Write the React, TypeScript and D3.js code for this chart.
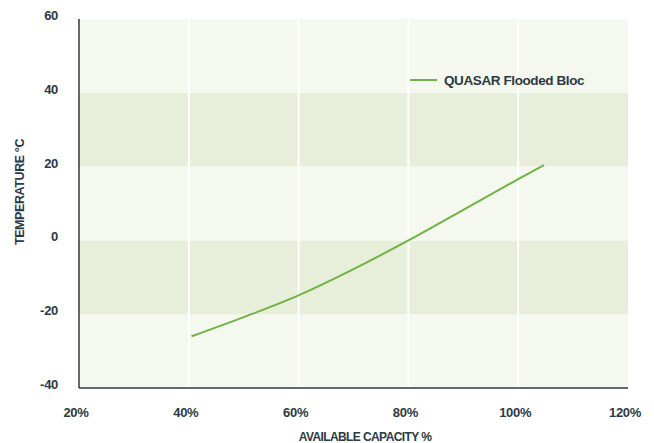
import React, { useEffect, useRef } from 'react';
import * as d3 from 'd3';

// Data
const capacity = [40.5, 50, 60, 70, 80, 90, 100, 104.7];
const temperature = [-26, -20.8, -14.9, -7.8, 0, 8.3, 16.6, 20.4];
const xTicks = [20, 40, 60, 80, 100, 120];
const yTicks = [-40, -20, 0, 20, 40, 60];
const seriesName = 'QUASAR Flooded Bloc';

const FONT = "'Liberation Sans', Arial, sans-serif";
const TEXT = '#2b3a44';
const LIGHT = '#f5f8ee';
const DARK = '#e7efdb';
const GREEN = '#70b244';

const App = () => {
  const svgRef = useRef<SVGSVGElement>(null);

  useEffect(() => {
    const width = 654;
    const height = 443;
    const margin = { top: 19, right: 26, bottom: 55, left: 79 };

    const svg = d3.select(svgRef.current);
    svg.selectAll('*').remove();
    svg.attr('width', width).attr('height', height);

    const x = d3
      .scaleLinear()
      .domain([20, 120])
      .range([margin.left, width - margin.right]);

    const y = d3
      .scaleLinear()
      .domain([-40, 60])
      .range([height - margin.bottom, margin.top]);

    // Horizontal bands
    const bands = d3.pairs(yTicks);
    svg
      .append('g')
      .selectAll('rect')
      .data(bands)
      .enter()
      .append('rect')
      .attr('x', x(20))
      .attr('width', x(120) - x(20))
      .attr('y', (d) => y(d[1]))
      .attr('height', (d) => y(d[0]) - y(d[1]))
      .attr('fill', (d) => (((d[0] + 40) / 20) % 2 === 0 ? LIGHT : DARK));

    // Vertical gridlines
    svg
      .append('g')
      .selectAll('line')
      .data(xTicks.slice(1, -1))
      .enter()
      .append('line')
      .attr('x1', (d) => x(d))
      .attr('x2', (d) => x(d))
      .attr('y1', y(60))
      .attr('y2', y(-40))
      .attr('stroke', '#ffffff')
      .attr('stroke-width', 2);

    // Series line
    const points = capacity.map((c, i) => [c, temperature[i]] as [number, number]);
    const line = d3
      .line<[number, number]>()
      .x((d) => x(d[0]))
      .y((d) => y(d[1]))
      .curve(d3.curveMonotoneX);

    svg
      .append('path')
      .datum(points)
      .attr('d', line)
      .attr('fill', 'none')
      .attr('stroke', GREEN)
      .attr('stroke-width', 2);

    // Axis lines
    svg
      .append('line')
      .attr('x1', x(20))
      .attr('x2', x(20))
      .attr('y1', y(60))
      .attr('y2', y(-40))
      .attr('stroke', TEXT)
      .attr('stroke-width', 1.5);

    svg
      .append('line')
      .attr('x1', x(20))
      .attr('x2', x(120))
      .attr('y1', y(-40))
      .attr('y2', y(-40))
      .attr('stroke', TEXT)
      .attr('stroke-width', 1.5);

    // Y tick labels
    svg
      .append('g')
      .selectAll('text')
      .data(yTicks)
      .enter()
      .append('text')
      .attr('x', x(20) - 21)
      .attr('y', (d) => y(d) + 1)
      .attr('text-anchor', 'end')
      .attr('font-family', FONT)
      .attr('font-weight', 'bold')
      .attr('font-size', 13)
      .attr('letter-spacing', -0.3)
      .attr('fill', TEXT)
      .text((d) => d);

    // X tick labels
    svg
      .append('g')
      .selectAll('text')
      .data(xTicks)
      .enter()
      .append('text')
      .attr('x', (d) => x(d) - 3)
      .attr('y', y(-40) + 29)
      .attr('text-anchor', 'middle')
      .attr('font-family', FONT)
      .attr('font-weight', 'bold')
      .attr('font-size', 13)
      .attr('letter-spacing', -0.3)
      .attr('fill', TEXT)
      .text((d) => `${d}%`);

    // Axis titles
    svg
      .append('text')
      .attr('x', 365)
      .attr('y', 441)
      .attr('text-anchor', 'middle')
      .attr('font-family', FONT)
      .attr('font-weight', 'bold')
      .attr('font-size', 12)
      .attr('letter-spacing', -0.6)
      .attr('fill', TEXT)
      .text('AVAILABLE CAPACITY %');

    svg
      .append('text')
      .attr('transform', 'translate(24,192) rotate(-90)')
      .attr('text-anchor', 'middle')
      .attr('font-family', FONT)
      .attr('font-weight', 'bold')
      .attr('font-size', 12.5)
      .attr('letter-spacing', -0.4)
      .attr('fill', TEXT)
      .text('TEMPERATURE °C');

    // Legend
    svg
      .append('line')
      .attr('x1', 410)
      .attr('x2', 437)
      .attr('y1', 80)
      .attr('y2', 80)
      .attr('stroke', GREEN)
      .attr('stroke-width', 2);

    svg
      .append('text')
      .attr('x', 444)
      .attr('y', 84.5)
      .attr('font-family', FONT)
      .attr('font-weight', 'bold')
      .attr('font-size', 13.5)
      .attr('letter-spacing', -0.4)
      .attr('fill', TEXT)
      .text(seriesName);
  }, []);

  return (
    <svg
      ref={svgRef}
      style={{ position: 'absolute', left: 0, top: 0, display: 'block', background: '#ffffff' }}
    />
  );
};

export default App;
